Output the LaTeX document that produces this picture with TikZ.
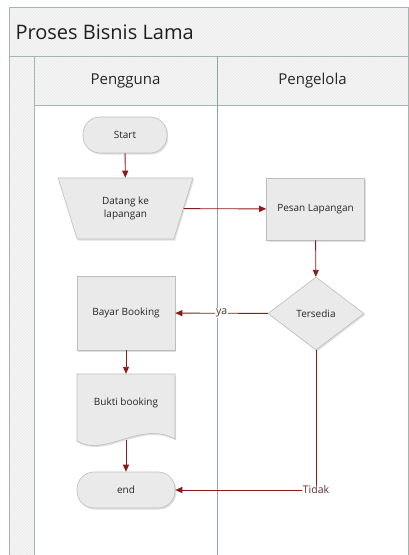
\documentclass[tikz,border=0pt]{standalone}
\usepackage{fontspec}
\setmainfont{Open Sans}
\usetikzlibrary{arrows.meta,shapes.geometric,shadows,patterns}
\definecolor{conn}{HTML}{8B1A1A}
\definecolor{frameline}{HTML}{A3B5B1}
\definecolor{divline}{HTML}{86A8A3}
\definecolor{bandfill}{HTML}{EEEEEE}
\definecolor{shapefill}{HTML}{EAEAEA}
\definecolor{shapeline}{HTML}{BDBDBD}
\definecolor{labtext}{HTML}{5A2E2E}
\tikzset{
  band/.style={draw=frameline, line width=0.8pt, preaction={fill=bandfill}, pattern=north east lines, pattern color=bandfill!40!white},
  flowbox/.style={draw=shapeline, line width=0.6pt, fill=shapefill,
    drop shadow={shadow xshift=1.2pt, shadow yshift=-1.5pt, opacity=0.25}, text=black!85,
    font=\fontsize{10}{12.5}\selectfont, align=center, inner sep=0pt},
  procbox/.style={flowbox, rectangle, minimum width=98pt},
  termbox/.style={flowbox, rectangle, rounded corners=17pt, minimum height=36pt},
  conn/.style={draw=conn, line width=0.9pt, -{Triangle[length=7pt,width=6pt]}},
  connlabel/.style={fill=white, inner sep=1pt, text=labtext, font=\fontsize{10.5}{12}\selectfont}
}
\begin{document}
\begin{tikzpicture}[x=1pt,y=-1pt]
\useasboundingbox (0,0) rectangle (409,555);
\clip (0,0) rectangle (409,555);
% pool
\fill[white] (0,0) rectangle (409,555);
\path[band] (9,7) rectangle (408,56);
\path[band] (9,56) rectangle (34,600);
\path[band] (34,56) rectangle (408,105);
\draw[frameline, line width=0.8pt, fill=white] (34,105) rectangle (408,600);
\draw[divline, line width=0.9pt] (217,56) -- (217,600);
\node[anchor=west, font=\fontsize{20}{24}\selectfont, text=black!88] (title) at (12,32.5) {Proses Bisnis Lama};
\node[font=\fontsize{15}{18}\selectfont, text=black!85] (lane1) at (125.5,81) {Pengguna};
\node[font=\fontsize{15}{18}\selectfont, text=black!85] (lane2) at (312.5,81) {Pengelola};
% nodes
\node[termbox, minimum width=84pt] (start) at (125,135) {Start};
\node[flowbox, trapezium, trapezium angle=67.7, shape border rotate=180, trapezium stretches=true,
      minimum width=135pt, minimum height=61pt] (datang) at (125.5,208.5) {Datang ke\\lapangan};
\node[procbox, minimum height=62pt] (pesan) at (315.5,209) {Pesan Lapangan};
\node[flowbox, diamond, minimum width=96pt, minimum height=73pt] (tersedia) at (316,313.5) {Tersedia};
\node[procbox, minimum height=74pt] (bayar) at (126,313) {Bayar Booking};
\path[flowbox] (77,374) -- (175,374) -- (175,439) .. controls (140,420) and (105,458) .. (77,441) -- cycle;
\node[minimum width=98pt, minimum height=66pt, inner sep=0pt] (bukti) at (126,407) {};
\node[font=\fontsize{10}{12.5}\selectfont, text=black!85] (buktitext) at (126,403) {Bukti booking};
\node[termbox, minimum width=98pt] (end) at (126,490) {end};
\coordinate (corner) at (tersedia.south |- end.east);
% connectors
\draw[conn] (start) -- (datang);
\draw[conn] (datang) -- (pesan);
\draw[conn] (pesan) -- (tersedia);
\draw[conn] (tersedia) -- node[connlabel, pos=0.5] {ya} (bayar);
\draw[conn] (bayar) -- (bayar.south |- bukti.north);
\draw[conn] (bukti.south) -- (end);
\draw[conn] (tersedia.south) -- (corner) node[connlabel] {Tidak} -- (end.east);
\end{tikzpicture}
\end{document}
